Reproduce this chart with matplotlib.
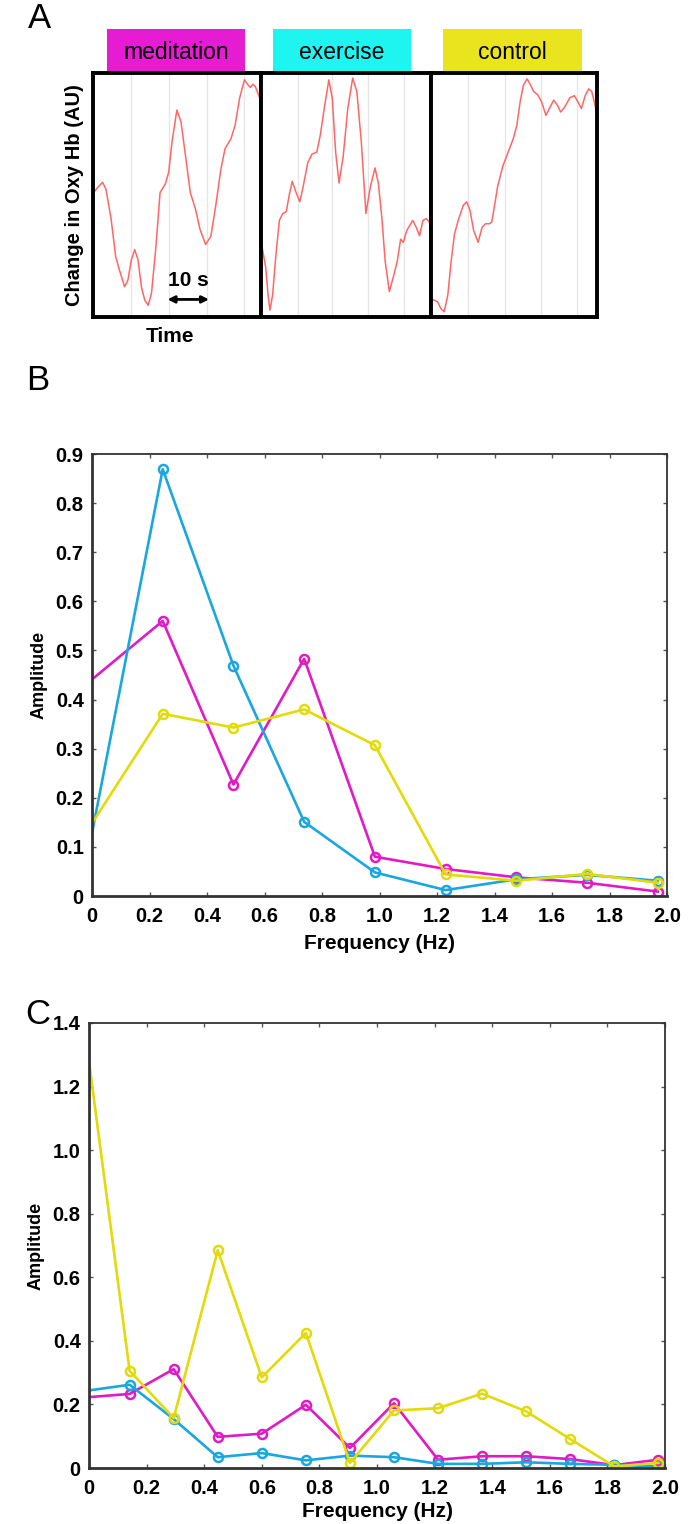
import matplotlib
matplotlib.use("Agg")
import matplotlib.pyplot as plt

W, H = 700, 1524
NARROW = ['Liberation Sans Narrow', 'Liberation Sans', 'DejaVu Sans']
WIDE = ['Liberation Sans', 'DejaVu Sans']

# ---- panel A: example oxy-Hb traces (time s, normalised AU) ----
med_t = [0.0, 0.3, 1.4, 2.7, 3.6, 5.0, 6.2, 7.2, 8.6, 9.5, 10.4, 11.3, 12.2, 13.1, 14.0,
         14.9, 15.8, 17.0, 18.1, 19.5, 20.4, 21.3, 22.6, 23.7, 24.9, 26.2, 27.6, 28.8,
         30.3, 31.7, 33.0, 34.4, 35.5, 37.1, 38.2, 39.4, 40.7, 41.6, 42.3, 43.0, 43.6, 45.0]
med_v = [0.662, 0.510, 0.531, 0.552, 0.524, 0.400, 0.248, 0.193, 0.124, 0.152, 0.234,
         0.276, 0.234, 0.124, 0.069, 0.048, 0.097, 0.290, 0.510, 0.545, 0.593, 0.717,
         0.848, 0.800, 0.662, 0.510, 0.441, 0.359, 0.297, 0.331, 0.455, 0.607, 0.690,
         0.731, 0.786, 0.897, 0.972, 0.952, 0.941, 0.954, 0.945, 0.890]
exe_t = [0.2, 1.4, 2.0, 2.5, 3.2, 4.1, 5.0, 5.9, 6.8, 7.7, 8.4, 9.5, 10.4, 11.3, 12.5,
         13.6, 14.9, 15.8, 17.0, 18.1, 19.0, 19.9, 20.8, 21.9, 23.1, 24.4, 25.5, 26.7,
         27.9, 29.1, 30.3, 31.2, 32.1, 33.0, 34.1, 35.1, 36.2, 37.1, 37.8, 38.7, 40.3,
         41.2, 42.1, 43.0, 43.9, 45.0]
exe_v = [0.306, 0.201, 0.090, 0.028, 0.090, 0.257, 0.396, 0.424, 0.431, 0.507, 0.556,
         0.507, 0.472, 0.535, 0.632, 0.667, 0.676, 0.743, 0.868, 0.972, 0.896, 0.674,
         0.549, 0.660, 0.854, 0.979, 0.924, 0.715, 0.424, 0.535, 0.611, 0.549, 0.410,
         0.229, 0.104, 0.160, 0.229, 0.319, 0.306, 0.354, 0.396, 0.368, 0.333, 0.396,
         0.403, 0.382]
ctl_t = [0.5, 1.9, 2.8, 3.7, 4.7, 5.6, 6.5, 7.5, 8.9, 9.8, 10.7, 11.7, 12.9, 14.0, 14.9,
         15.9, 16.6, 17.3, 18.2, 19.6, 21.0, 22.4, 23.4, 24.3, 25.2, 26.2, 27.1, 28.0,
         29.1, 30.1, 31.3, 32.2, 33.4, 34.4, 35.3, 36.4, 37.8, 39.0, 40.2, 40.9, 42.0,
         42.9, 43.7, 44.4, 45.0]
ctl_v = [0.072, 0.063, 0.035, 0.021, 0.090, 0.229, 0.340, 0.396, 0.458, 0.472, 0.438,
         0.354, 0.306, 0.368, 0.382, 0.382, 0.389, 0.451, 0.535, 0.618, 0.674, 0.729,
         0.785, 0.882, 0.951, 0.976, 0.951, 0.924, 0.910, 0.882, 0.826, 0.854, 0.889,
         0.868, 0.840, 0.861, 0.899, 0.907, 0.875, 0.854, 0.910, 0.935, 0.924, 0.882, 0.840]
grid_med = [10.4, 20.4, 30.6, 40.7]
grid_exe = [9.8, 19.0, 28.5, 38.0]
grid_ctl = [10.3, 20.1, 29.9, 39.7]

conditions = ['meditation', 'exercise', 'control']
cond_colors = ['#E51CD2', '#1EF4F0', '#EAE41E']

# ---- panel B: spectrum (0.246 Hz bins) ----
freq_b = [0.0, 0.246, 0.492, 0.738, 0.984, 1.23, 1.476, 1.722, 1.968]
med_b = [0.441, 0.560, 0.227, 0.483, 0.080, 0.055, 0.038, 0.027, 0.009]
exe_b = [0.128, 0.869, 0.469, 0.151, 0.048, 0.012, 0.034, 0.043, 0.031]
ctl_b = [0.148, 0.371, 0.343, 0.380, 0.307, 0.044, 0.031, 0.045, 0.027]

# ---- panel C: spectrum (finer bins) ----
freq_c = [0.0, 0.141, 0.294, 0.447, 0.600, 0.753, 0.906, 1.059, 1.212, 1.365, 1.518,
          1.671, 1.824, 1.977]
med_c = [0.223, 0.233, 0.311, 0.098, 0.108, 0.199, 0.063, 0.204, 0.026, 0.037, 0.037,
         0.028, 0.009, 0.026]
exe_c = [0.244, 0.262, 0.154, 0.034, 0.047, 0.024, 0.039, 0.034, 0.013, 0.013, 0.018,
         0.013, 0.010, 0.005]
ctl_c = [1.279, 0.306, 0.157, 0.685, 0.285, 0.425, 0.016, 0.181, 0.188, 0.234, 0.178,
         0.091, 0.005, 0.016]

line_colors = {'meditation': '#E01BC6', 'exercise': '#1AA6DF', 'control': '#E3DA0A'}


def rect(x0, y0, x1, y1):
    return [x0 / W, 1 - y1 / H, (x1 - x0) / W, (y1 - y0) / H]


fig = plt.figure(figsize=(W / 100, H / 100), dpi=100)

# panel A
traces = [(med_t, med_v, grid_med), (exe_t, exe_v, grid_exe), (ctl_t, ctl_v, grid_ctl)]
xs = [(92.5, 260.5), (260.5, 430.5), (430.5, 596.5)]
labels_x = [(107, 245), (273, 411), (443, 582)]
for i, (t, v, g) in enumerate(traces):
    ax = fig.add_axes(rect(xs[i][0], 73, xs[i][1], 317))
    for gx in g:
        ax.axvline(gx, color='#e6e6e6', lw=1, zorder=0)
    ax.plot(t, v, color='#FF6666', lw=1.1)
    ax.set_xlim(0, 45)
    ax.set_ylim(0, 1)
    ax.set_xticks([])
    ax.set_yticks([])
    for s in ax.spines.values():
        s.set_linewidth(2.8)
        s.set_color('black')
    if i == 0:
        ax.annotate('', xy=(20.1, 0.072), xytext=(31.2, 0.072),
                    arrowprops=dict(arrowstyle='<|-|>', color='black', lw=2,
                                    mutation_scale=10, shrinkA=0, shrinkB=0))
        ax.text(25.6, 0.15, '10 s', ha='center', va='center', fontsize=15,
                fontweight='bold', family=NARROW)

    lab = fig.add_axes(rect(labels_x[i][0], 29, labels_x[i][1], 71))
    lab.set_facecolor(cond_colors[i])
    lab.set_xticks([])
    lab.set_yticks([])
    for s in lab.spines.values():
        s.set_visible(False)
    lab.text(0.5, 0.45, conditions[i], ha='center', va='center', fontsize=16.5,
             family=NARROW, transform=lab.transAxes)

fig.text(75 / W, 1 - 195 / H, 'Change in Oxy Hb (AU)', rotation=90, ha='center',
         va='center', fontsize=14.5, fontweight='bold', family=WIDE)
fig.text(170 / W, 1 - 337 / H, 'Time', ha='center', va='center', fontsize=15,
         fontweight='bold', family=NARROW)
fig.text(39 / W, 1 - 18 / H, 'A', ha='center', va='center', fontsize=25, family=NARROW)
fig.text(38 / W, 1 - 380 / H, 'B', ha='center', va='center', fontsize=25, family=NARROW)
fig.text(38 / W, 1 - 1015 / H, 'C', ha='center', va='center', fontsize=25, family=NARROW)


def spectrum(box, freq, series, ymax, yticks, ylabels, xpad, lpad):
    ax = fig.add_axes(rect(*box))
    for name, vals in series:
        ax.plot(freq, vals, color=line_colors[name], lw=1.9, marker='o', ms=6.5,
                mfc='none', mew=1.8, markevery=slice(1, None), clip_on=True)
    ax.set_xlim(0, 2.0)
    ax.set_ylim(0, ymax)
    ax.set_xticks([0, 0.2, 0.4, 0.6, 0.8, 1.0, 1.2, 1.4, 1.6, 1.8, 2.0])
    ax.set_xticklabels(['0', '0.2', '0.4', '0.6', '0.8', '1.0', '1.2', '1.4', '1.6',
                        '1.8', '2.0'])
    ax.set_yticks(yticks)
    ax.set_yticklabels(ylabels)
    ax.tick_params(direction='in', length=3, width=1, color='#555555', top=True,
                   right=True, pad=6)
    ax.tick_params(axis='x', pad=xpad)
    for lbl in ax.get_xticklabels() + ax.get_yticklabels():
        lbl.set_family(NARROW)
        lbl.set_fontweight('bold')
        lbl.set_fontsize(14.5)
    for s in ax.spines.values():
        s.set_linewidth(1.3)
        s.set_color('#333333')
    ax.spines['left'].set_linewidth(2)
    ax.spines['bottom'].set_linewidth(2)
    ax.set_xlabel('Frequency (Hz)', fontsize=15, fontweight='bold', family=NARROW,
                  labelpad=lpad)
    ax.set_ylabel('Amplitude', fontsize=13, fontweight='bold', family=WIDE, labelpad=6)
    return ax


spectrum((92, 454, 667, 896), freq_b,
         [('meditation', med_b), ('exercise', exe_b), ('control', ctl_b)], 0.9,
         [0, 0.1, 0.2, 0.3, 0.4, 0.5, 0.6, 0.7, 0.8, 0.9],
         ['0', '0.1', '0.2', '0.3', '0.4', '0.5', '0.6', '0.7', '0.8', '0.9'], 8, 6)
spectrum((89, 1023, 665, 1468), freq_c,
         [('meditation', med_c), ('exercise', exe_c), ('control', ctl_c)], 1.4,
         [0, 0.2, 0.4, 0.6, 0.8, 1.0, 1.2, 1.4],
         ['0', '0.2', '0.4', '0.6', '0.8', '1.0', '1.2', '1.4'], 8, 3)

fig.savefig('out.png', dpi=100)
